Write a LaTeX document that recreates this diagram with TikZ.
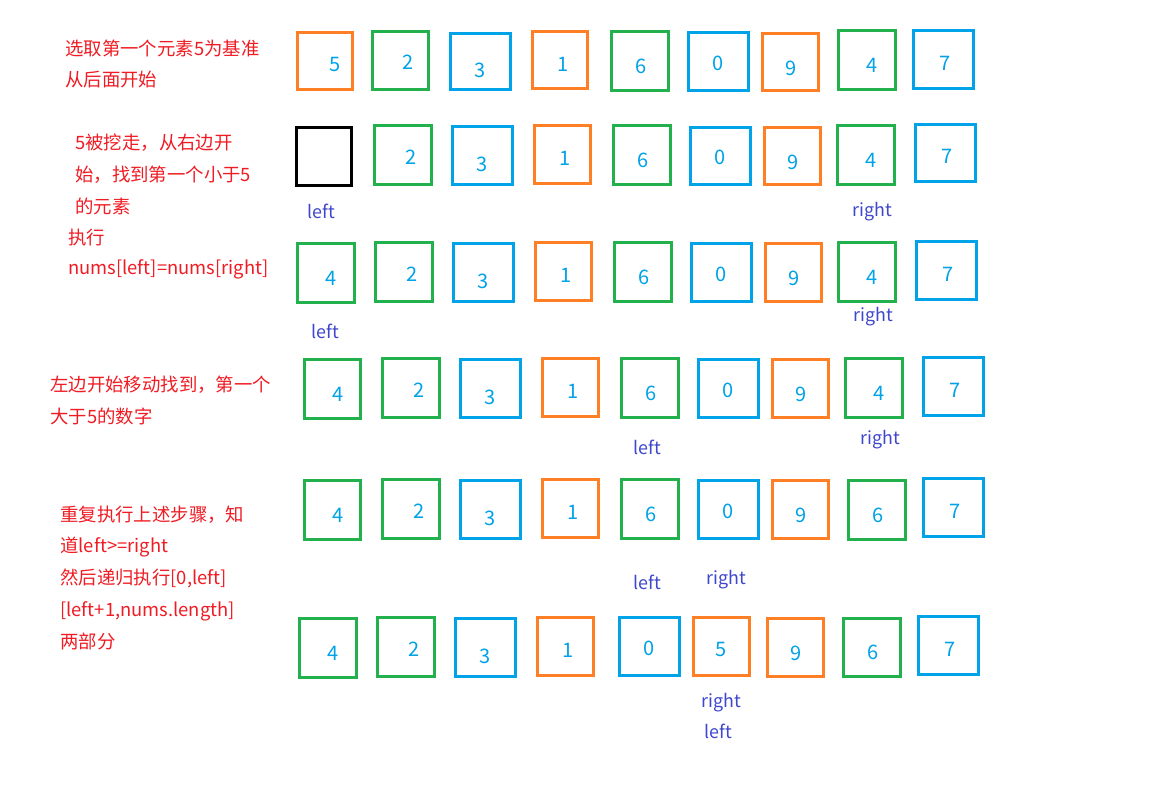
\documentclass[tikz,border=0pt]{standalone}
\usepackage{fontspec}
\setmainfont{Noto Sans CJK SC}
\definecolor{cOr}{HTML}{FF7F27}
\definecolor{cGr}{HTML}{22B14C}
\definecolor{cBl}{HTML}{00A2E8}
\definecolor{cRed}{HTML}{F01C24}
\definecolor{cLab}{HTML}{3F48CC}
\tikzset{
  cellsty/.style={rectangle,line width=2.25pt,inner sep=0pt,outer sep=0pt},
  digit/.style={inner sep=0pt,text=cBl,font=\fontsize{15}{18}\selectfont},
  ptr/.style={inner sep=0pt,text=cLab,font=\fontsize{13.4}{16}\selectfont},
  note/.style={anchor=west,inner sep=0pt,text=cRed,font=\fontsize{13.8}{16}\selectfont,text height=0.8em,text depth=0.2em},
}
\newcommand\cellbox[9]{%
  \node[cellsty,draw=#6,minimum width={(#4-#2-3)*0.75pt},minimum height={(#5-#3-3)*0.75pt}] (#1) at ({(#2+#4)/2},{(#3+#5)/2}) {};
  \node[digit] (#1d) at ([shift={(#8,#9)}]#1.center) {#7};}
\begin{document}
\begin{tikzpicture}[x=0.75pt,y=-0.75pt]
\fill[white] (0,0) rectangle (1152,800);
\useasboundingbox (0,0) rectangle (1152,800);
% notes
\node[note] (n1a) at (65,51) {选取第一个元素5为基准};
\node[note] (n1b) at (65,82) {从后面开始};
\node[note] (n2a) at (75,145) {5被挖走，从右边开};
\node[note] (n2b) at (75,177) {始，找到第一个小于5};
\node[note] (n2c) at (75,209) {的元素};
\node[note] (n3a) at (68,240) {执行};
\node[note] (n3b) at (68,270) {nums[left]=nums[right]};
\node[note] (n4a) at (50,387) {左边开始移动找到，第一个};
\node[note] (n4b) at (50,419) {大于5的数字};
\node[note] (n5a) at (60,517) {重复执行上述步骤，知};
\node[note] (n5b) at (60,548) {道left>=right};
\node[note] (n5c) at (60,580) {然后递归执行[0,left]};
\node[note] (n5d) at (60,612) {[left+1,nums.length]};
\node[note] (n5e) at (60,644) {两部分};
% row 1
\cellbox{a1}{296}{31}{354}{91}{cOr}{5}{10}{3}
\cellbox{a2}{371}{30}{430}{91}{cGr}{2}{8}{2}
\cellbox{a3}{449}{32}{512}{91}{cBl}{3}{0}{9}
\cellbox{a4}{531}{30}{589}{90}{cOr}{1}{3}{4}
\cellbox{a5}{610}{30}{670}{92}{cGr}{6}{1}{5}
\cellbox{a6}{687}{31}{750}{92}{cBl}{0}{0}{1.5}
\cellbox{a7}{761}{32}{820}{92}{cOr}{9}{1}{6}
\cellbox{a8}{837}{29}{897}{91}{cGr}{4}{5.5}{5.5}
\cellbox{a9}{912}{29}{975}{90}{cBl}{7}{1.5}{3.5}
% row 2
\node[cellsty,draw=black,minimum width={55*0.75pt},minimum height={58*0.75pt}] (b1) at (324,156.5) {};
\cellbox{b2}{373}{124}{433}{186}{cGr}{2}{8}{2}
\cellbox{b3}{451}{125}{514}{186}{cBl}{3}{0}{9}
\cellbox{b4}{533}{124}{592}{185}{cOr}{1}{3}{4}
\cellbox{b5}{612}{124}{672}{186}{cGr}{6}{1}{5}
\cellbox{b6}{689}{126}{752}{186}{cBl}{0}{0}{1.5}
\cellbox{b7}{763}{126}{822}{186}{cOr}{9}{1}{6}
\cellbox{b8}{836}{124}{896}{186}{cGr}{4}{5.5}{5.5}
\cellbox{b9}{914}{123}{977}{183}{cBl}{7}{1.5}{3.5}
\node[ptr] (bl) at (321,211) {left};
\node[ptr] (br) at (872,212) {right};
% row 3
\cellbox{c1}{296}{242}{356}{304}{cGr}{4}{5.5}{5.5}
\cellbox{c2}{374}{241}{434}{303}{cGr}{2}{8}{2}
\cellbox{c3}{452}{242}{515}{303}{cBl}{3}{0}{9}
\cellbox{c4}{534}{241}{593}{302}{cOr}{1}{3}{4}
\cellbox{c5}{613}{241}{673}{303}{cGr}{6}{1}{5}
\cellbox{c6}{690}{242}{753}{303}{cBl}{0}{0}{1.5}
\cellbox{c7}{764}{242}{823}{303}{cOr}{9}{1}{6}
\cellbox{c8}{837}{241}{897}{303}{cGr}{4}{5.5}{5.5}
\cellbox{c9}{915}{240}{978}{301}{cBl}{7}{1.5}{3.5}
\node[ptr] (cl) at (325,331) {left};
\node[ptr] (cr) at (873,317) {right};
% row 4
\cellbox{d1}{303}{358}{362}{420}{cGr}{4}{5.5}{5.5}
\cellbox{d2}{381}{357}{441}{419}{cGr}{2}{8}{2}
\cellbox{d3}{459}{358}{522}{419}{cBl}{3}{0}{9}
\cellbox{d4}{541}{357}{600}{418}{cOr}{1}{3}{4}
\cellbox{d5}{620}{357}{680}{419}{cGr}{6}{1}{5}
\cellbox{d6}{697}{358}{760}{419}{cBl}{0}{0}{1.5}
\cellbox{d7}{771}{358}{830}{419}{cOr}{9}{1}{6}
\cellbox{d8}{844}{357}{904}{419}{cGr}{4}{5.5}{5.5}
\cellbox{d9}{922}{356}{985}{417}{cBl}{7}{1.5}{3.5}
\node[ptr] (dl) at (647,447) {left};
\node[ptr] (dr) at (880,440) {right};
% row 5
\cellbox{e1}{303}{479}{362}{541}{cGr}{4}{5.5}{5.5}
\cellbox{e2}{381}{478}{441}{540}{cGr}{2}{8}{2}
\cellbox{e3}{459}{479}{522}{540}{cBl}{3}{0}{9}
\cellbox{e4}{541}{478}{600}{539}{cOr}{1}{3}{4}
\cellbox{e5}{620}{478}{680}{540}{cGr}{6}{1}{5}
\cellbox{e6}{697}{479}{760}{540}{cBl}{0}{0}{1.5}
\cellbox{e7}{771}{479}{830}{540}{cOr}{9}{1}{6}
\cellbox{e8}{847}{479}{907}{541}{cGr}{6}{1}{5}
\cellbox{e9}{922}{477}{985}{538}{cBl}{7}{1.5}{3.5}
\node[ptr] (el) at (647,582) {left};
\node[ptr] (er) at (726,580) {right};
% row 6
\cellbox{f1}{298}{617}{358}{679}{cGr}{4}{5.5}{5.5}
\cellbox{f2}{376}{616}{436}{678}{cGr}{2}{8}{2}
\cellbox{f3}{454}{617}{517}{678}{cBl}{3}{0}{9}
\cellbox{f4}{536}{616}{595}{677}{cOr}{1}{3}{4}
\cellbox{f5}{618}{616}{681}{677}{cBl}{0}{0}{2}
\cellbox{f6}{692}{616}{751}{677}{cOr}{5}{0}{3}
\cellbox{f7}{766}{617}{825}{678}{cOr}{9}{1}{6}
\cellbox{f8}{842}{617}{902}{678}{cGr}{6}{1}{5}
\cellbox{f9}{917}{615}{980}{676}{cBl}{7}{1.5}{3.5}
\node[ptr] (fr) at (721,703) {right};
\node[ptr] (fl) at (718,731) {left};
\end{tikzpicture}
\end{document}
